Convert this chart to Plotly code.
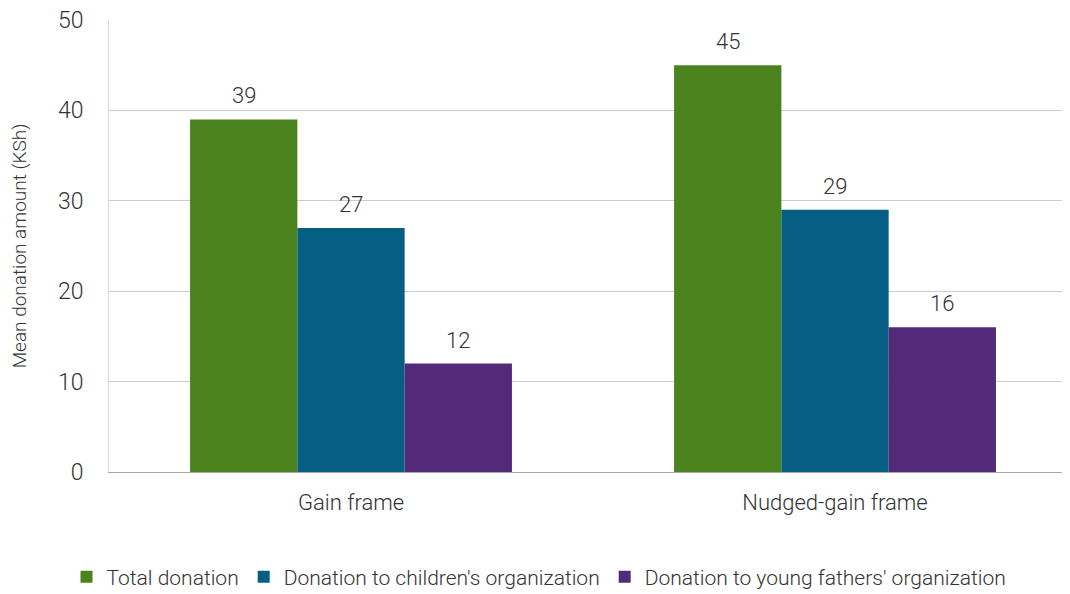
import plotly.graph_objects as go

categories = ["Gain frame", "Nudged-gain frame"]
series_names = ["Total donation", "Donation to children's organization", "Donation to young fathers' organization"]
total_donation = [39, 45]
children_org = [27, 29]
fathers_org = [12, 16]
colors = ["#4a821e", "#075e84", "#532a7a"]
y_ticks = [0, 10, 20, 30, 40, 50]

FONT = "Roboto"
TXT = "#333333"
# page body adds an 8px offset, so the figure is drawn slightly smaller
W, H = 1062, 586
ML, MR, MT, MB = 101, 0, 12, 122
BARGAP = 0.335
X_RANGE = [-0.5, 1.4855]

fig = go.Figure()
all_vals = [total_donation, children_org, fathers_org]
for name, vals, col in zip(series_names, all_vals, colors):
    fig.add_trace(go.Bar(
        x=categories, y=vals, name=name,
        marker=dict(color=col, line=dict(width=0)),
    ))

# value labels above bars
cat_px = (W - ML - MR) / (X_RANGE[1] - X_RANGE[0])
bar_px = cat_px * (1 - BARGAP) / len(all_vals)
for si, vals in enumerate(all_vals):
    off = (si - (len(all_vals) - 1) / 2) * bar_px
    for c, v in zip(categories, vals):
        fig.add_annotation(x=c, y=v, text=str(v), showarrow=False,
                           xshift=off, yshift=9, yanchor="bottom",
                           font=dict(family=FONT, size=22, color=TXT, weight=300))

fig.update_layout(
    width=W, height=H,
    margin=dict(l=ML, r=MR, t=MT, b=MB, autoexpand=False),
    barmode="group", bargap=BARGAP, bargroupgap=0,
    plot_bgcolor="white", paper_bgcolor="white",
    font=dict(family=FONT, size=22, color=TXT, weight=300),
    legend=dict(orientation="h", xref="container", yref="container",
                x=0.5, xanchor="center", y=1 - 569 / 586, yanchor="middle",
                font=dict(family=FONT, size=21, color=TXT, weight=300),
                itemwidth=30, traceorder="normal"),
    showlegend=True,
)
fig.update_xaxes(
    type="category", range=X_RANGE, automargin=False,
    showline=True, linecolor="#a6a6a6", linewidth=1,
    tickfont=dict(family=FONT, size=22, color=TXT, weight=300),
    ticks="", ticklabelstandoff=11,
)
fig.update_yaxes(
    range=[0, 50], tickvals=y_ticks, automargin=False,
    showgrid=True, gridcolor="#cccccc", gridwidth=1,
    zeroline=False, showline=True, linecolor="#d9d9d9", linewidth=1,
    tickfont=dict(family=FONT, size=23, color=TXT, weight=300),
    ticklabelstandoff=20, ticklabeloverflow="allow",
    title=dict(text="Mean donation amount (KSh)", standoff=27,
               font=dict(family=FONT, size=19, color=TXT, weight=300)),
)
fig.write_html("out.html")
